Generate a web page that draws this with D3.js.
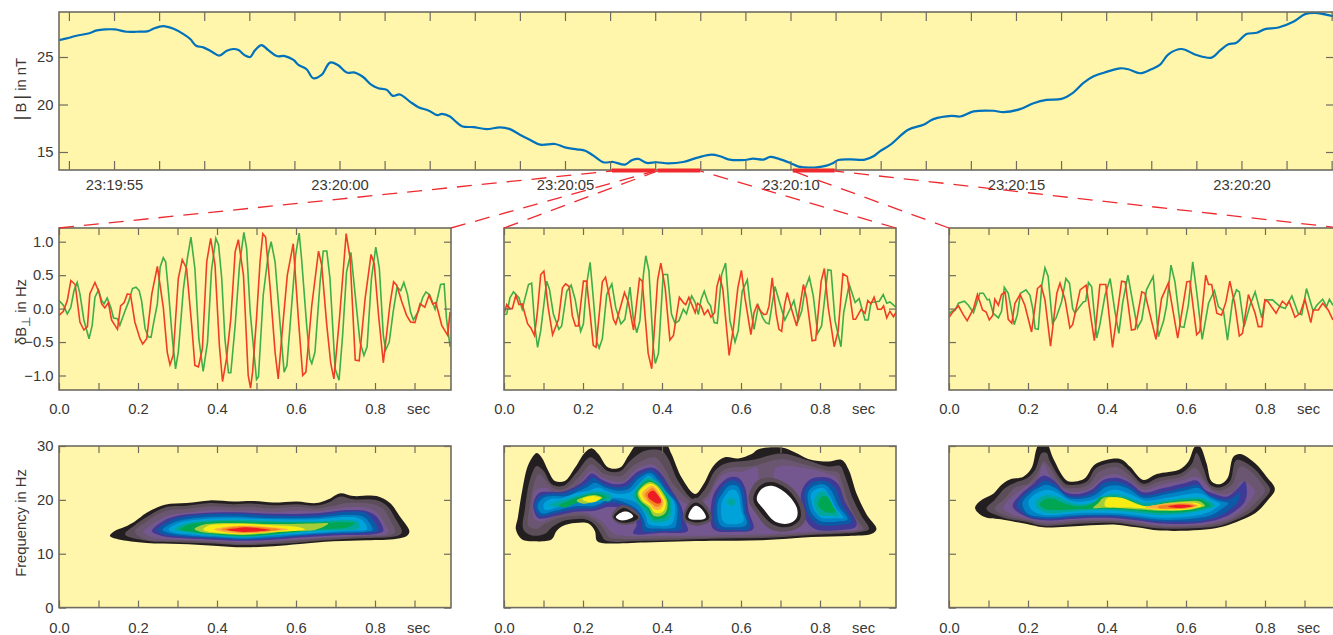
<!DOCTYPE html>
<html>
<head>
<meta charset="utf-8">
<script src="https://cdn.jsdelivr.net/npm/d3@7"></script>
<style>
  html, body { margin: 0; background: #fff; overflow: hidden; }
  text { font-family: "Liberation Sans", Arial, sans-serif; fill: #3a3835; }
</style>
</head>
<body>
<svg id="chart" width="1333" height="635"></svg>
<script>
// |B| trace: [seconds after 23:19:55, nT]
var fieldTrace = [[-1.22,26.78],[-1.05,26.96],[-.83,27.24],[-.57,27.48],[-.38,27.8],[-.2,27.9],[.02,27.9],[.28,27.66],[.5,27.66],[.76,27.73],[.87,27.97],[1.09,28.25],[1.32,27.97],[1.54,27.41],[1.69,26.89],[1.82,26.19],[1.98,26.01],[2.17,25.56],[2.33,25.14],[2.5,25.66],[2.65,25.84],[2.76,25.73],[2.9,25.17],[3.02,25],[3.13,25.73],[3.27,26.26],[3.42,25.73],[3.61,25.1],[3.79,25.1],[3.98,24.69],[4.09,24.16],[4.27,23.71],[4.42,22.76],[4.6,23.11],[4.79,24.41],[4.97,24.13],[5.16,23.36],[5.34,23.36],[5.53,22.87],[5.71,22.06],[5.86,21.71],[6.05,21.54],[6.18,20.91],[6.34,21.05],[6.56,20.31],[6.75,19.72],[6.97,19.37],[7.17,18.88],[7.27,19.02],[7.45,18.74],[7.6,18.11],[7.73,17.69],[7.97,17.62],[8.26,17.41],[8.56,17.59],[8.78,17.41],[9,16.82],[9.22,16.29],[9.45,15.77],[9.78,15.84],[10,15.49],[10.26,15.28],[10.45,15.14],[10.63,14.62],[10.85,13.92],[11.07,13.95],[11.33,13.67],[11.48,14.13],[11.63,14.27],[11.81,13.85],[12.03,13.92],[12.29,13.81],[12.62,13.95],[12.96,14.44],[13.25,14.72],[13.44,14.55],[13.62,14.23],[13.99,14.16],[14.17,14.3],[14.4,14.2],[14.55,14.48],[14.73,14.3],[14.99,13.85],[15.18,13.46],[15.32,13.39],[15.58,13.39],[15.8,13.57],[15.95,13.85],[16.06,14.16],[16.32,14.23],[16.65,14.2],[16.84,14.55],[16.98,15.07],[17.21,15.75],[17.61,17.34],[17.95,17.87],[18.17,18.46],[18.57,18.81],[18.76,18.74],[19.06,19.27],[19.5,19.34],[19.72,19.2],[20.09,19.51],[20.39,20.14],[20.68,20.49],[21.01,20.59],[21.27,21.26],[21.49,22.24],[21.71,22.94],[22.01,23.43],[22.31,23.81],[22.49,23.71],[22.75,23.29],[23,23.71],[23.19,24.16],[23.38,25.28],[23.67,25.84],[24,25.21],[24.34,24.93],[24.52,25.66],[24.71,26.33],[24.89,26.5],[25.11,27.41],[25.34,27.55],[25.52,27.94],[25.82,28.11],[26.15,28.71],[26.41,29.51],[26.63,29.65],[27.03,29.3]];
var timeLabels = ["23:19:55","23:20:00","23:20:05","23:20:10","23:20:15","23:20:20"];
var fieldTicks = [15,20,25];
// the three one second windows, seconds after 23:19:55
var windows = [[11.04,12],[12.05,13],[15.05,15.98]];

// perturbation traces: [sec, Hz]
var wave1Green = [[0,.12],[.011,.05],[.021,-.08],[.03,.02],[.038,.27],[.046,.39],[.053,.22],[.063,-.17],[.076,-.45],[.084,-.25],[.091,.17],[.1,.28],[.108,.12],[.114,.07],[.122,.16],[.132,0],[.138,-.14],[.148,-.15],[.154,-.25],[.165,-.07],[.176,.1],[.186,.3],[.195,.32],[.203,.27],[.209,.12],[.218,-.3],[.226,-.42],[.233,-.43],[.24,-.2],[.249,.07],[.256,.62],[.264,.76],[.27,.7],[.278,.2],[.287,-.45],[.295,-.9],[.302,-.65],[.315,.3],[.325,.75],[.334,1.07],[.344,.6],[.354,-.45],[.365,-.94],[.376,-.5],[.386,.57],[.397,1.05],[.404,.95],[.412,.45],[.42,-.45],[.429,-.96],[.435,-.96],[.446,-.25],[.457,.65],[.468,1.14],[.475,.9],[.484,-.05],[.5,-1.06],[.505,-1.02],[.517,.2],[.53,.82],[.537,1],[.547,.7],[.56,-.25],[.57,-.95],[.577,-.85],[.589,.05],[.599,.8],[.608,1.13],[.614,.75],[.627,-.25],[.635,-.75],[.64,-.82],[.648,-.65],[.661,.4],[.669,.86],[.678,.86],[.686,.45],[.699,-.9],[.709,-1.07],[.718,-.4],[.728,.55],[.739,.84],[.749,.25],[.762,-.5],[.772,-.7],[.78,-.57],[.791,.45],[.802,.92],[.811,.6],[.821,-.4],[.827,-.62],[.836,-.5],[.846,-.05],[.856,.32],[.865,.27],[.873,.39],[.882,.22],[.89,-.05],[.897,-.17],[.91,-.04],[.921,.17],[.929,.25],[.939,.2],[.952,-.01],[.966,.36],[.975,.37],[.981,-.15],[.99,-.57]];
var wave1Red = [[0,-.1],[.011,-.04],[.021,.12],[.03,.42],[.041,.36],[.053,-.2],[.063,-.32],[.072,-.27],[.078,.22],[.091,.39],[.101,.25],[.108,.07],[.116,.01],[.125,.09],[.133,-.17],[.148,-.31],[.156,.04],[.165,.09],[.173,.22],[.181,.21],[.192,-.2],[.205,-.45],[.212,-.53],[.222,-.45],[.235,.22],[.249,.63],[.264,.02],[.274,-.65],[.281,-.84],[.289,-.7],[.302,.45],[.312,.73],[.323,.6],[.336,-.25],[.344,-.85],[.353,-.87],[.363,-.6],[.374,.7],[.384,1.05],[.395,.65],[.406,-.55],[.414,-1.09],[.424,-.75],[.435,-.15],[.446,.85],[.454,1.03],[.467,.5],[.479,-1],[.485,-1.19],[.49,-.95],[.5,-.15],[.509,.7],[.516,1.12],[.523,1.07],[.534,.35],[.547,-.65],[.555,-1.05],[.565,-.35],[.578,.5],[.593,.97],[.606,-.15],[.617,-1],[.625,-.95],[.64,.05],[.657,.86],[.665,.65],[.678,-.25],[.688,-.82],[.696,-1.05],[.71,-.15],[.727,1.12],[.737,.75],[.75,-.77],[.76,-.78],[.775,.15],[.79,.81],[.798,.67],[.809,-.1],[.821,-.81],[.83,-.35],[.838,.07],[.847,.4],[.855,.35],[.868,.1],[.88,-.1],[.89,-.2],[.901,-.21],[.914,.07],[.926,.02],[.937,.2],[.946,.07],[.954,.09],[.969,-.25],[.984,-.4],[.99,-.05]];
var wave2Green = [[0,-.09],[.007,-.08],[.015,.16],[.024,.25],[.038,.16],[.046,-.01],[.062,.36],[.07,.38],[.078,-.26],[.085,-.58],[.093,-.33],[.108,.41],[.115,.29],[.125,-.08],[.139,-.31],[.146,-.26],[.159,.26],[.17,.35],[.18,.14],[.194,-.34],[.201,-.23],[.209,.36],[.218,.69],[.226,.16],[.235,-.5],[.241,-.59],[.249,-.45],[.26,.21],[.273,.37],[.283,.01],[.296,-.23],[.306,-.16],[.319,.32],[.327,-.13],[.336,-.36],[.344,-.18],[.353,.51],[.359,.79],[.367,.56],[.378,-.58],[.383,-.82],[.391,-.67],[.403,.51],[.414,.51],[.424,-.08],[.433,-.22],[.443,-.18],[.454,-.01],[.462,-.08],[.475,.19],[.484,.09],[.492,-.09],[.499,.14],[.507,.26],[.516,.1],[.523,.04],[.532,-.21],[.54,-.22],[.551,.51],[.561,.68],[.572,-.18],[.585,-.5],[.593,-.33],[.603,.26],[.616,.43],[.623,.06],[.633,-.31],[.644,.04],[.655,-.14],[.663,-.21],[.671,-.23],[.686,.33],[.699,.06],[.711,-.17],[.724,-.01],[.734,.12],[.745,-.18],[.754,-.03],[.762,.29],[.773,.47],[.783,.19],[.794,-.37],[.804,-.26],[.82,.58],[.828,.57],[.838,-.18],[.853,-.57],[.86,-.06],[.874,.36],[.889,.09],[.899,.15],[.914,-.17],[.922,-.17],[.929,.09],[.95,.11],[.96,.21],[.969,.08],[.977,.1],[.992,.02]];
var wave2Red = [[0,-.08],[.007,.06],[.015,0],[.021,0],[.03,.2],[.038,.06],[.046,.07],[.06,-.23],[.068,-.29],[.077,-.4],[.084,-.08],[.093,.51],[.101,.56],[.112,.01],[.123,-.39],[.138,-.16],[.148,.31],[.156,.37],[.165,.33],[.173,-.11],[.181,-.26],[.188,-.26],[.201,.41],[.209,.41],[.218,-.08],[.226,-.55],[.233,-.58],[.249,.4],[.257,.47],[.266,.21],[.277,-.16],[.283,-.23],[.305,.24],[.315,.09],[.328,-.32],[.343,.45],[.35,.41],[.365,-.67],[.374,-.9],[.389,.43],[.397,.68],[.408,.31],[.42,-.47],[.429,-.4],[.444,.17],[.454,.09],[.46,.06],[.468,.17],[.484,-.06],[.49,.08],[.499,.04],[.507,-.09],[.516,-.02],[.524,-.13],[.533,-.06],[.539,.33],[.546,.48],[.554,.29],[.57,-.7],[.581,-.28],[.592,.31],[.601,.57],[.61,.16],[.625,-.39],[.633,-.06],[.641,.06],[.65,-.04],[.658,-.09],[.665,-.08],[.671,.04],[.679,.46],[.689,-.08],[.696,-.31],[.703,-.34],[.71,.04],[.717,.24],[.729,-.03],[.741,-.26],[.758,.36],[.766,.16],[.78,-.48],[.789,-.47],[.803,.41],[.811,.6],[.821,.01],[.836,-.57],[.846,-.33],[.858,.52],[.869,.48],[.884,-.16],[.89,-.16],[.904,-.01],[.914,-.07],[.921,.12],[.929,.07],[.937,.17],[.946,-.01],[.955,-.01],[.961,.04],[.969,-.14],[.977,-.04],[.986,-.12],[.992,-.06]];
var wave3Green = [[0,-.08],[.007,-.04],[.015,-.03],[.024,.08],[.039,.11],[.049,.05],[.062,-.06],[.078,.23],[.087,.23],[.097,.13],[.102,.14],[.112,-.07],[.125,-.14],[.133,-.04],[.14,.32],[.15,.23],[.165,-.24],[.173,-.09],[.181,.23],[.195,.28],[.205,.2],[.212,0],[.218,-.3],[.226,-.31],[.235,.35],[.243,.61],[.251,.48],[.262,-.22],[.271,-.14],[.285,.1],[.296,.45],[.305,.38],[.313,0],[.319,-.07],[.327,0],[.34,.1],[.346,.11],[.353,.39],[.361,.33],[.374,-.44],[.382,-.24],[.395,.2],[.408,.45],[.42,-.04],[.43,-.37],[.44,.1],[.453,.5],[.465,.1],[.477,-.29],[.488,-.17],[.5,.28],[.517,.48],[.53,-.42],[.543,-.19],[.551,.05],[.562,.65],[.572,.4],[.586,-.27],[.595,-.28],[.606,.05],[.617,.7],[.627,.25],[.641,-.46],[.657,.08],[.672,.27],[.682,.03],[.695,-.04],[.705,-.47],[.718,.13],[.728,.28],[.735,.25],[.747,-.27],[.762,.05],[.775,.25],[.792,-.14],[.8,.13],[.819,.13],[.838,.03],[.851,0],[.868,.19],[.884,-.07],[.893,-.09],[.905,.3],[.922,-.04],[.931,.05],[.946,.14],[.956,.03],[.963,.14],[.972,.05]];
var wave3Red = [[0,-.13],[.011,-.04],[.024,.04],[.036,-.09],[.046,-.18],[.062,0],[.072,.21],[.085,-.02],[.094,-.05],[.102,-.17],[.111,-.1],[.116,.14],[.125,.05],[.133,.21],[.142,.25],[.15,-.16],[.159,-.22],[.167,.08],[.18,.21],[.192,.05],[.209,-.35],[.224,.3],[.233,.35],[.243,.13],[.257,-.56],[.273,.23],[.281,.38],[.294,.13],[.306,-.29],[.313,-.24],[.332,.28],[.347,.35],[.368,-.48],[.382,.36],[.397,.36],[.414,-.58],[.437,.41],[.446,.4],[.462,-.32],[.471,-.31],[.488,.25],[.496,.23],[.524,-.46],[.538,.15],[.555,.38],[.579,-.44],[.602,.4],[.61,.41],[.627,-.39],[.635,-.34],[.65,.5],[.657,.36],[.665,.36],[.678,-.07],[.69,-.1],[.701,.1],[.711,.41],[.724,.05],[.735,-.41],[.743,-.37],[.758,.21],[.775,-.07],[.783,-.27],[.792,-.27],[.8,.13],[.808,.1],[.828,-.07],[.844,.11],[.855,.05],[.861,.11],[.876,-.13],[.889,-.07],[.901,.14],[.916,-.21],[.922,-.02],[.935,-.02],[.946,.08],[.96,-.02],[.972,-.17]];
var waveTicks = [-1,-.5,0,.5,1];
var freqTicks = [0,10,20,30];
var secTicks = d3.range(0,10).map(d => d/10);

// spectrogram contours: [level, [[sec, Hz], ...]], painted in order
var spec1Contours = [
 [0,[[.129,13.3],[.138,14.1],[.167,15],[.192,16],[.222,17.6],[.268,19.1],[.323,19.4],[.382,19.9],[.441,19.7],[.492,19.8],[.543,19.5],[.602,19.7],[.652,19.4],[.682,20.1],[.711,21.2],[.745,20.7],[.804,20.7],[.838,19.4],[.863,16.9],[.887,14.2],[.882,13.4],[.855,12.8],[.779,12.5],[.695,12.3],[.61,11.8],[.543,11.4],[.467,11.2],[.391,11.5],[.306,11.8],[.222,12],[.171,12.4]]],
 [1,[[.167,13.6],[.192,15.3],[.222,16.8],[.268,18.6],[.323,18.9],[.382,19.4],[.441,19.2],[.492,19.3],[.543,19],[.602,19.2],[.652,18.95],[.682,19.5],[.711,20.6],[.745,20.1],[.8,20],[.83,18.9],[.851,16.6],[.868,14.1],[.859,13.4],[.779,12.9],[.695,12.6],[.61,12.1],[.543,11.8],[.467,11.6],[.391,11.9],[.306,12.1],[.222,12.4]]],
 [2,[[.192,14.1],[.222,16],[.268,17.9],[.323,18.3],[.382,18.8],[.441,18.6],[.492,18.7],[.543,18.4],[.602,18.7],[.652,18.4],[.695,18.9],[.728,19.4],[.796,19.2],[.821,18.3],[.838,16.3],[.851,14.1],[.838,13.4],[.779,13.2],[.695,12.9],[.61,12.5],[.543,12.1],[.467,11.8],[.391,12.1],[.306,12.4],[.222,12.6]]],
 [3,[[.215,14.1],[.247,16],[.281,17.2],[.323,17.6],[.382,18.1],[.441,18],[.492,18],[.543,17.8],[.602,18],[.652,17.9],[.728,18.6],[.787,18.4],[.808,17.4],[.823,15.7],[.834,14.1],[.821,13.5],[.779,13.4],[.695,13.1],[.61,12.7],[.543,12.4],[.467,12.1],[.391,12.4],[.306,12.6],[.239,13]]],
 [4,[[.235,14.2],[.264,16.1],[.298,17],[.357,17.5],[.441,17.7],[.543,17.4],[.652,17.5],[.728,18.1],[.779,17.9],[.804,16.9],[.821,14.2],[.804,13.7],[.695,13.4],[.61,13],[.543,12.6],[.467,12.4],[.391,12.6],[.306,12.9],[.256,13.4]]],
 [5,[[.249,14.4],[.277,16],[.311,16.8],[.365,17.3],[.441,17.4],[.543,17.1],[.652,17.1],[.728,17.8],[.775,17.6],[.792,16.6],[.808,14.3],[.792,14],[.695,13.7],[.61,13.3],[.543,12.9],[.467,12.6],[.391,12.9],[.306,13.2],[.264,13.6]]],
 [6,[[.262,14.4],[.289,15.8],[.323,16.4],[.374,16.8],[.441,16.9],[.543,16.6],[.652,16.7],[.728,17.2],[.766,17],[.783,16.1],[.794,14.4],[.775,14.1],[.695,13.9],[.61,13.5],[.543,13.1],[.467,12.8],[.391,13.1],[.31,13.5],[.277,13.9]]],
 [7,[[.277,14.5],[.302,15.7],[.336,16.2],[.382,16.5],[.441,16.6],[.543,16.4],[.652,16.4],[.728,16.8],[.758,16.6],[.775,15.7],[.779,14.5],[.754,14.3],[.695,14.1],[.61,13.7],[.543,13.4],[.467,13],[.391,13.3],[.315,13.7],[.289,14]]],
 [8,[[.291,14.5],[.315,15.5],[.349,16],[.391,16.2],[.45,16.3],[.543,16.1],[.652,16],[.728,16.3],[.758,15.8],[.758,14.7],[.728,14.4],[.652,14.2],[.543,13.5],[.467,13.1],[.391,13.4],[.323,14],[.302,14.2]]],
 [9,[[.306,14.5],[.327,15.4],[.357,15.8],[.399,16],[.45,16],[.543,15.8],[.661,15.8],[.737,15.8],[.749,15.7],[.732,14.9],[.661,14.5],[.593,14],[.543,13.6],[.467,13.25],[.391,13.6],[.332,14.1]]],
 [10,[[.343,14.6],[.357,15.2],[.374,15.5],[.412,15.7],[.458,15.7],[.543,15.5],[.648,15.6],[.682,15.6],[.648,14.4],[.593,14.3],[.543,13.9],[.467,13.5],[.391,13.8],[.357,14.1]]],
 [11,[[.365,14.5],[.378,15.2],[.424,15.5],[.475,15.5],[.543,15.3],[.602,15],[.623,14.5],[.593,14.2],[.526,13.95],[.467,13.6],[.399,13.9],[.378,14.1]]],
 [12,[[.393,14.5],[.424,15],[.475,15.2],[.526,15],[.58,14.5],[.526,14.1],[.467,13.75],[.415,14.1]]],
 [13,[[.41,14.5],[.44,14.95],[.475,15.05],[.52,14.85],[.56,14.5],[.52,14.1],[.467,13.9],[.43,14.2]]],
 [14,[[.424,14.5],[.45,14.75],[.475,14.9],[.51,14.7],[.535,14.4],[.5,14.15],[.467,14.05],[.44,14.2]]]
];
var spec2Contours = [
 [0,[[.03,14.55],[.035,16.7],[.046,21.7],[.062,26.6],[.083,28.7],[.095,27.9],[.112,25.4],[.129,23.5],[.154,23.5],[.18,26],[.205,28.8],[.222,29.6],[.239,28.5],[.264,26],[.294,26],[.315,28.2],[.34,30.5],[.408,30.5],[.424,28.5],[.45,24.1],[.484,21.1],[.505,22.9],[.53,26.3],[.559,27.9],[.593,27.7],[.627,28.5],[.644,29.4],[.703,29.7],[.737,28.8],[.77,27.6],[.821,27.1],[.855,27.4],[.872,25.7],[.893,21.1],[.918,17.3],[.943,14.6],[.931,13.7],[.872,13.3],[.779,13.1],[.652,12.5],[.526,12.4],[.357,12.1],[.247,12],[.235,12.4],[.23,14.2],[.214,15.6],[.18,15.7],[.15,15.2],[.133,14.2],[.121,12.7],[.078,12.3],[.045,12.7]]],
 [1,[[.049,14.55],[.053,18.3],[.066,23.8],[.083,26.3],[.1,25.4],[.121,22.9],[.15,22.6],[.184,25.1],[.218,27.9],[.239,26.9],[.264,25.3],[.294,25.3],[.319,27.2],[.357,29.1],[.399,29.1],[.416,27.6],[.441,23.5],[.481,20.1],[.509,22],[.534,25.4],[.559,26.7],[.627,27.4],[.703,28.6],[.754,27.7],[.821,26.2],[.851,26.3],[.863,24.5],[.884,20.1],[.905,17],[.924,14.6],[.905,14.1],[.779,13.5],[.652,12.9],[.526,12.8],[.357,12.4],[.256,12.5],[.246,13.6],[.23,15.4],[.205,16.4],[.176,16.4],[.146,16],[.121,14.9],[.104,13.7],[.07,13.4]]],
 [2,[[.062,15.2],[.066,19.2],[.078,23.5],[.089,24.8],[.104,23.8],[.129,22],[.154,22],[.188,24.1],[.222,26.6],[.247,25.1],[.273,24.5],[.298,24.5],[.332,26.6],[.382,27.9],[.403,26.3],[.429,22.9],[.484,19.5],[.517,21.1],[.538,24.1],[.559,25.7],[.631,26.3],[.703,27.6],[.754,26.7],[.821,25.4],[.846,25.1],[.855,23.5],[.872,19.5],[.893,16.4],[.91,14.6],[.893,14.2],[.779,13.7],[.652,13.2],[.526,13],[.357,12.8],[.268,13],[.26,13.6],[.243,15.5],[.205,17],[.176,17],[.138,16.6],[.104,15.6],[.083,14.6]]],
 [3,[[.072,18.9],[.078,21.7],[.104,22.3],[.133,21.1],[.159,21.2],[.192,23.2],[.222,25.4],[.251,24.1],[.277,23.5],[.302,23.5],[.336,25.7],[.374,26.6],[.395,25.4],[.42,22.3],[.443,20.1],[.484,18.9],[.517,20.4],[.534,22.9],[.551,24.5],[.568,25.1],[.606,25.3],[.64,26],[.648,23.8],[.678,23.8],[.69,26],[.754,26],[.821,24.8],[.842,24.1],[.855,21.1],[.872,18],[.893,15.5],[.897,14.6],[.821,14.2],[.652,13.6],[.534,13.4],[.399,13.3],[.315,13.3],[.281,13.6],[.247,16],[.205,17.6],[.171,17.6],[.129,17],[.095,16],[.077,16.4]]],
 [4,[[.074,18.9],[.087,21.2],[.116,21.5],[.146,21.5],[.176,22.3],[.201,23.5],[.222,24.9],[.247,23.8],[.281,22.9],[.306,23.2],[.34,25.3],[.374,26],[.395,25.1],[.42,22.3],[.448,18.9],[.458,16.1],[.465,14.2],[.399,13.9],[.327,13.8],[.336,15.5],[.315,18],[.268,18.7],[.23,18],[.18,17.8],[.129,17],[.087,16.6]]],
 [4,[[.53,14.6],[.526,19.8],[.538,22],[.568,24.1],[.593,24.1],[.61,22.3],[.619,18],[.631,14.6],[.585,14.1]]],
 [4,[[.754,21.7],[.775,23.8],[.821,24.1],[.846,22.9],[.863,19.7],[.893,15.7],[.889,14.9],[.855,14.4],[.787,14.6],[.762,16.6],[.752,19.4]]],
 [5,[[.077,18.9],[.091,20.7],[.121,21.2],[.15,21.2],[.18,22],[.205,22.9],[.226,24.1],[.251,23],[.285,22.3],[.311,22.6],[.34,24.6],[.372,25.5],[.391,24.5],[.414,22],[.443,19.2],[.448,16.1],[.45,14.6],[.399,14.2],[.353,14.2],[.349,15.8],[.332,18.1],[.268,19.5],[.23,18.5],[.18,18.3],[.129,17.5],[.091,17]]],
 [5,[[.538,14.9],[.534,19.5],[.544,21.5],[.568,23.4],[.591,23.4],[.606,21.7],[.612,18],[.623,14.7],[.581,14.4]]],
 [5,[[.762,21.7],[.779,23.2],[.817,23.4],[.84,22],[.855,19.2],[.88,15.9],[.855,15.4],[.796,15.4],[.772,17],[.762,19.5]]],
 [6,[[.085,18.9],[.1,20.4],[.129,20.7],[.159,20.7],[.184,21.5],[.209,22.3],[.23,23.2],[.256,22.3],[.289,21.7],[.315,22],[.342,24],[.37,25],[.389,23.8],[.41,21.7],[.437,19.2],[.437,15.8],[.433,14.9],[.391,14.7],[.361,14.9],[.355,16.1],[.336,18.3],[.273,20.1],[.23,18.9],[.18,18.8],[.129,18],[.095,17.5]]],
 [6,[[.547,15.4],[.541,19.5],[.553,21.2],[.57,22.6],[.59,22.6],[.6,21.1],[.606,18],[.614,15.4],[.578,14.9]]],
 [6,[[.77,21.4],[.786,22.6],[.813,22.8],[.831,21.4],[.846,18.9],[.87,16.4],[.846,16],[.8,16.1],[.779,17.5],[.77,19.5]]],
 [7,[[.1,19.1],[.116,20.1],[.146,20.3],[.18,21.2],[.214,21.7],[.239,22.3],[.264,21.5],[.294,21.1],[.319,21.4],[.344,23.2],[.367,24.5],[.386,23.2],[.408,21.4],[.431,19.5],[.424,15.5],[.382,15.2],[.365,15.6],[.359,17],[.34,19.2],[.311,20.1],[.277,20.4],[.23,19.5],[.18,19.4],[.129,18.5],[.104,18.1]]],
 [7,[[.555,16],[.551,19.5],[.561,20.9],[.572,21.8],[.586,21.8],[.595,20.6],[.6,18.3],[.606,16],[.576,15.5]]],
 [7,[[.777,21.1],[.791,22],[.808,22.2],[.825,20.7],[.84,18.5],[.859,16.7],[.838,16.6],[.804,16.7],[.786,18],[.779,19.5]]],
 [8,[[.116,19.1],[.138,19.8],[.18,20.6],[.218,21.4],[.247,21.5],[.273,20.7],[.268,19.8],[.23,20],[.18,19.9],[.138,18.7]]],
 [8,[[.327,20.7],[.347,23.2],[.365,24.1],[.386,23.5],[.408,21.7],[.424,19.8],[.418,16.4],[.391,15.8],[.374,16],[.359,17.6],[.336,19.5]]],
 [8,[[.564,19.5],[.572,20.3],[.58,20.3],[.585,19.3],[.576,18.9]]],
 [8,[[.786,20.1],[.8,21.5],[.813,21.5],[.825,20.1],[.836,18.3],[.848,17],[.825,17],[.8,17.2],[.787,18.7]]],
 [9,[[.138,18.9],[.163,19.8],[.197,20.7],[.23,21.2],[.251,20.9],[.26,20.4],[.235,19.8],[.188,19.5],[.154,18.6]]],
 [9,[[.334,21.1],[.35,22.9],[.367,23.65],[.386,23],[.403,21.5],[.419,19.5],[.412,17],[.391,16.4],[.376,16.6],[.364,18.1],[.342,19.6]]],
 [9,[[.796,19.5],[.807,20.7],[.82,20.4],[.832,18.9],[.84,17.8],[.825,17.6],[.808,18],[.797,18.7]]],
 [10,[[.184,19.9],[.205,20.6],[.23,20.9],[.249,20.4],[.23,19.8],[.201,19.3]]],
 [10,[[.338,21.2],[.353,22.7],[.37,23.3],[.386,22.8],[.402,21.4],[.414,19.5],[.408,17.5],[.391,16.9],[.378,17.1],[.367,18.5],[.346,19.8]]],
 [11,[[.198,20.1],[.222,20.7],[.245,20.3],[.222,19.5]]],
 [11,[[.342,21.4],[.355,22.5],[.371,23],[.386,22.5],[.399,21.2],[.41,19.5],[.404,17.95],[.391,17.5],[.38,17.7],[.37,18.8],[.35,19.9]]],
 [12,[[.35,21.2],[.361,22.1],[.374,22.6],[.386,22],[.397,20.7],[.404,19.5],[.399,18.5],[.389,18.1],[.38,18.3],[.37,19.2],[.357,20]]],
 [13,[[.357,21.05],[.365,21.7],[.376,22.2],[.386,21.5],[.395,20.4],[.399,19.5],[.395,18.9],[.386,18.7],[.376,19.2],[.365,19.9]]],
 [14,[[.364,20.9],[.37,21.5],[.379,21.7],[.389,20.9],[.397,20.1],[.397,19.5],[.389,19.3],[.376,19.8],[.367,20.3]]],
 // low power islands, painted last
 [1,[[.273,17],[.294,18.9],[.323,18.5],[.344,16.7],[.323,15.5],[.289,15.6]]],
 [0,[[.277,16.8],[.302,18.5],[.327,17.6],[.34,16.7],[.315,15.8],[.289,16]]],
 [15,[[.283,16.8],[.302,17.8],[.319,17.6],[.327,16.9],[.306,16.2],[.291,16.3]]],
 [1,[[.454,16.4],[.465,19.1],[.486,20.4],[.513,18.9],[.526,16.4],[.488,15.2]]],
 [0,[[.46,16.6],[.468,18.6],[.486,19.5],[.507,18.5],[.519,16.6],[.488,15.8]]],
 [15,[[.467,16.7],[.475,18.3],[.486,18.9],[.5,18.3],[.511,16.7],[.488,16.3]]],
 [1,[[.619,20.1],[.64,23.5],[.678,24.1],[.728,22.3],[.76,18.6],[.76,15.8],[.724,14.2],[.673,14.6],[.64,17.3]]],
 [0,[[.631,20.1],[.648,22.6],[.678,23.3],[.72,21.8],[.749,18.6],[.749,16.4],[.722,15],[.682,15.4],[.648,17.8]]],
 [15,[[.64,20.1],[.652,22],[.678,22.6],[.711,21.4],[.741,18.6],[.741,16.7],[.72,15.6],[.686,16],[.657,18.3]]]
];
var spec3Contours = [
 [0,[[.066,18.5],[.083,20],[.113,21.2],[.133,22.8],[.154,23.8],[.188,24.3],[.209,25.9],[.222,29.6],[.23,30.5],[.247,30.5],[.264,27.7],[.298,23.6],[.319,23.4],[.344,24],[.37,26.6],[.433,27.6],[.458,26.2],[.492,23.7],[.526,24.8],[.585,25.7],[.606,27.1],[.623,29.9],[.635,29.9],[.652,26.8],[.665,23.4],[.686,22.9],[.705,24],[.72,28],[.737,28.5],[.775,26.8],[.804,24.3],[.825,22],[.808,20],[.775,17.5],[.728,15.9],[.686,14.9],[.635,14.4],[.534,14.3],[.475,14.9],[.424,15.4],[.34,15.2],[.239,14.9],[.197,15.5],[.138,16.3],[.087,16.9]]],
 [1,[[.095,18.3],[.116,20],[.142,22.2],[.167,23.2],[.197,24],[.218,25.6],[.235,28.7],[.247,28.7],[.256,27.1],[.294,23],[.319,22.8],[.349,23.4],[.374,26],[.429,26.9],[.454,25.6],[.492,23],[.53,24.1],[.589,25],[.614,26.6],[.627,28.7],[.644,25.9],[.661,22.8],[.686,22.3],[.711,23.4],[.728,27.4],[.766,26.2],[.796,23.8],[.813,21.9],[.796,20],[.766,17.8],[.724,16.2],[.686,15.2],[.635,14.8],[.534,14.7],[.475,15.2],[.424,15.7],[.34,15.6],[.239,15.2],[.197,15.9],[.138,16.7]]],
 [2,[[.116,18.3],[.142,20.3],[.167,22.3],[.201,23.1],[.226,25.3],[.239,27.1],[.256,25.9],[.289,22.5],[.319,22.2],[.353,22.8],[.382,25.3],[.424,26.1],[.45,25],[.492,22.5],[.534,23.5],[.589,24.3],[.623,25.9],[.644,24],[.661,22.2],[.686,21.7],[.716,22.8],[.737,26.2],[.762,25.4],[.787,23.4],[.8,21.7],[.779,19.7],[.754,18],[.72,16.5],[.686,15.6],[.635,15.1],[.534,15],[.475,15.5],[.424,16],[.34,16],[.239,15.5],[.197,16.2],[.146,17]]],
 [3,[[.138,18.5],[.159,20.6],[.188,22.2],[.222,23.6],[.239,26.5],[.256,24.5],[.294,21.9],[.323,21.5],[.357,22.2],[.391,24.3],[.424,24.8],[.454,23.7],[.492,21.9],[.538,22.8],[.593,23.7],[.627,24.3],[.652,22.8],[.669,21.5],[.695,21.1],[.72,21.5],[.741,23.4],[.762,22.8],[.775,21.5],[.758,19.4],[.732,17.5],[.703,16.3],[.678,15.9],[.635,15.4],[.534,15.3],[.475,15.9],[.424,16.3],[.34,16.3],[.239,15.9],[.197,16.5],[.159,17.3]]],
 [4,[[.161,18.8],[.18,20.9],[.209,22.7],[.239,24.5],[.264,23.7],[.296,21.4],[.327,21.1],[.361,21.9],[.391,23.7],[.424,24.1],[.458,23.2],[.492,21.4],[.543,22.2],[.597,23.1],[.627,23.6],[.648,21.9],[.673,21.1],[.703,20.6],[.728,21.9],[.749,23.4],[.754,21.9],[.749,19.7],[.72,17.7],[.686,16.5],[.635,15.7],[.534,15.6],[.475,16.2],[.424,16.6],[.34,16.6],[.239,16.2],[.197,16.8]]],
 [5,[[.173,19.1],[.192,21.1],[.218,22.4],[.243,23.6],[.268,22.8],[.298,20.9],[.332,20.6],[.365,21.4],[.391,23.1],[.424,23.4],[.458,22.5],[.492,20.9],[.547,21.5],[.602,22.5],[.631,22.8],[.652,21.2],[.678,20.4],[.703,20],[.728,20.9],[.737,21.5],[.732,19.7],[.707,18],[.678,16.8],[.635,16.1],[.534,16],[.475,16.5],[.424,16.9],[.34,16.9],[.239,16.5],[.197,17.1]]],
 [6,[[.186,19.4],[.205,21.2],[.226,22.2],[.247,22.8],[.273,22],[.302,20.4],[.336,20.2],[.37,20.9],[.395,22.3],[.424,22.7],[.458,21.9],[.492,20.4],[.551,21.1],[.606,21.9],[.631,22.2],[.661,20.6],[.686,19.8],[.707,19.4],[.686,18.1],[.665,17.2],[.627,16.6],[.534,16.3],[.475,16.8],[.424,17.2],[.34,17.2],[.239,16.8],[.198,17.5]]],
 [7,[[.201,19.7],[.218,21.1],[.251,21.9],[.277,21.2],[.306,19.9],[.34,19.7],[.374,20.3],[.399,21.5],[.424,21.9],[.458,21.1],[.496,19.9],[.555,20.4],[.606,21.1],[.64,21.1],[.665,20],[.686,19.2],[.665,18],[.627,17.1],[.534,16.7],[.475,17.2],[.424,17.5],[.34,17.6],[.239,17.2],[.209,18.1]]],
 [8,[[.218,19.4],[.23,20.4],[.251,20.9],[.281,20.4],[.311,19.4],[.34,19.2],[.374,19.8],[.399,20.9],[.424,21.1],[.458,20.4],[.496,19.4],[.559,20],[.61,20.4],[.644,20.3],[.673,18.9],[.644,18.1],[.602,17.5],[.534,17.2],[.475,17.6],[.424,18],[.34,18],[.247,17.6],[.226,18.3]]],
 [9,[[.23,19.1],[.243,20.1],[.264,20.2],[.294,19.3],[.34,18.8],[.37,19.7],[.382,20.5],[.424,20.6],[.462,19.9],[.5,18.9],[.559,19.7],[.61,20],[.64,20],[.661,18.9],[.64,18.3],[.602,17.8],[.534,17.6],[.475,18],[.424,18.3],[.34,18.3],[.264,18.1],[.243,18.3]]],
 [10,[[.365,18.5],[.378,19.4],[.391,20.4],[.424,20.5],[.462,19.7],[.5,18.8],[.559,19.5],[.61,19.8],[.635,19.7],[.648,18.9],[.631,18.5],[.602,18.1],[.534,18],[.484,18.2],[.424,18.5],[.382,18.5]]],
 [11,[[.395,18.8],[.399,20.2],[.441,20.3],[.475,19.2],[.505,18.8],[.559,19.3],[.602,19.5],[.627,19.4],[.64,18.9],[.623,18.5],[.593,18.1],[.534,18.1],[.484,18.5],[.424,18.6]]],
 [12,[[.496,18.6],[.534,19.2],[.585,19.4],[.619,19.3],[.631,18.9],[.614,18.5],[.585,18.3],[.534,18.3]]],
 [13,[[.53,18.8],[.57,19.2],[.61,19.2],[.625,18.9],[.605,18.5],[.57,18.35],[.53,18.5]]],
 [14,[[.56,18.9],[.585,19.1],[.61,19],[.618,18.85],[.6,18.6],[.575,18.5],[.555,18.7]]]
];
var levelColors = ["#231f20","#5b4e58","#6a5670","#75578f","#3e3a96","#0c5aa6","#0082c4","#00a3d9","#00a79d","#00a651","#a5cd39","#f7ec13","#fbb040","#f58220","#ed1c24","#ffffff"];

var svg = d3.select("#chart");
var bg = "#fff5ab", frameColor = "#6f6b60", ink = "#3a3835";
var fontSize = 14.8;

// plain frame, ticks inside, labels outside
function frame(g, x, y, left, top, w, h, opts) {
    var right = left + w, bottom = top + h;
    g.append("rect").attr("x", left).attr("y", top).attr("width", w).attr("height", h)
        .attr("fill", bg);
    var layer = opts.draw(g);
    var axes = g.append("g");
    axes.append("g").attr("transform", `translate(0,${bottom})`)
        .call(d3.axisBottom(x).tickValues(opts.xTicks).tickSize(-opts.tick).tickPadding(opts.xPad).tickFormat(opts.xFormat));
    axes.append("g").attr("transform", `translate(0,${top})`)
        .call(d3.axisTop(x).tickValues(opts.xTicks).tickSize(-opts.tick).tickFormat(""));
    axes.append("g").attr("transform", `translate(${left},0)`)
        .call(d3.axisLeft(y).tickValues(opts.yTicks).tickSize(-opts.tick).tickPadding(5.5).tickFormat(opts.yFormat));
    axes.append("g").attr("transform", `translate(${right},0)`)
        .call(d3.axisRight(y).tickValues(opts.yTicks).tickSize(-opts.tick).tickFormat(""));
    axes.selectAll(".domain").remove();
    axes.selectAll("line").attr("stroke", frameColor).attr("stroke-width", 1.2);
    axes.selectAll("text").attr("font-size", fontSize).attr("font-family", '"Liberation Sans", Arial, sans-serif').attr("fill", ink);
    g.append("rect").attr("x", left).attr("y", top).attr("width", w).attr("height", h)
        .attr("fill", "none").attr("stroke", frameColor).attr("stroke-width", 1.6);
    return layer;
}

function clip(id, left, top, w, h) {
    svg.append("clipPath").attr("id", id).append("rect")
        .attr("x", left).attr("y", top).attr("width", w).attr("height", h);
}

// top panel
var topX = d3.scaleLinear().domain([-1.22, 27.03]).range([59, 1333]);
var topY = d3.scaleLinear().domain([15, 25]).range([152, 57]);
clip("clipTop", 59, 12, 1274, 158);
var topG = svg.append("g");
frame(topG, topX, topY, 59, 12, 1276, 158, {
    tick: 9, xPad: 9,
    xTicks: d3.range(-1, 28),
    xFormat: t => (t >= 0 && t % 5 == 0) ? timeLabels[t / 5] : "",
    yTicks: fieldTicks, yFormat: d => d,
    draw: g => {
        g.append("path").datum(fieldTrace)
            .attr("clip-path", "url(#clipTop)")
            .attr("fill", "none").attr("stroke", "#0072bc").attr("stroke-width", 2.2)
            .attr("d", d3.line().curve(d3.curveCatmullRom).x(d => topX(d[0])).y(d => topY(d[1])));
    }
});

var panelLefts = [59, 504, 949];
var panelW = 392;
var secMax = .9924;
var waves = [[wave1Green, wave1Red], [wave2Green, wave2Red], [wave3Green, wave3Red]];
var specs = [spec1Contours, spec2Contours, spec3Contours];
var contourLine = d3.line().curve(d3.curveCatmullRomClosed.alpha(.5));

panelLefts.forEach((left, i) => {
    var x = d3.scaleLinear().domain([0, secMax]).range([left, left + panelW]);
    var yWave = d3.scaleLinear().domain([-1, 1]).range([375.5, 241.7]);
    var yFreq = d3.scaleLinear().domain([0, 30]).range([607.6, 446]);
    var secFormat = d => (Math.round(d * 10) % 2 == 0 && d < .85) ? d.toFixed(1) : "";

    // wave panel
    clip("clipW" + i, left, 228, panelW, 162);
    var gw = svg.append("g");
    frame(gw, x, yWave, left, 228, panelW, 162, {
        tick: 7, xPad: 13.5,
        xTicks: secTicks, xFormat: secFormat,
        yTicks: waveTicks, yFormat: i == 0 ? d3.format(".1f") : "",
        draw: g => {
            var line = d3.line().x(d => x(d[0])).y(d => yWave(d[1]));
            g.selectAll("path.trace").data(waves[i]).enter().append("path")
                .attr("class", "trace")
                .attr("clip-path", `url(#clipW${i})`)
                .attr("fill", "none")
                .attr("stroke", (d, j) => j == 0 ? "#3fae49" : "#ef3e23")
                .attr("stroke-width", 1.6)
                .attr("d", line);
        }
    });
    gw.append("text").attr("x", left + 348).attr("y", 414).attr("font-size", fontSize).text("sec");

    // spectrogram panel
    clip("clipS" + i, left, 446, panelW, 161.6);
    var gs = svg.append("g");
    frame(gs, x, yFreq, left, 446, panelW, 161.6, {
        tick: 7, xPad: 15,
        xTicks: secTicks, xFormat: secFormat,
        yTicks: freqTicks, yFormat: i == 0 ? (d => d) : "",
        draw: g => {
            g.append("g").attr("clip-path", `url(#clipS${i})`)
                .selectAll("path").data(specs[i]).enter().append("path")
                .attr("fill", d => levelColors[d[0]])
                .attr("d", d => contourLine(d[1].map(p => [x(p[0]), yFreq(p[1])])));
        }
    });
    gs.append("text").attr("x", left + 348).attr("y", 633).attr("font-size", fontSize).text("sec");
});

// y titles
function yTitle(cy, build) {
    var t = svg.append("text").attr("transform", `translate(26,${cy}) rotate(-90)`)
        .attr("text-anchor", "middle").attr("font-size", fontSize);
    build(t);
}
yTitle(89, t => {
    t.append("tspan").attr("font-size", 18).attr("dy", 1).text("|");
    t.append("tspan").attr("dx", 3).attr("dy", -1).text("B");
    t.append("tspan").attr("font-size", 18).attr("dx", 3).attr("dy", 1).text("|");
    t.append("tspan").attr("dy", -1).text(" in nT");
});
yTitle(312, t => {
    t.append("tspan").text("δB");
    t.append("tspan").attr("dy", 4).attr("font-size", 12).text("⊥");
    t.append("tspan").attr("dy", -4).text(" in Hz");
});
yTitle(523, t => t.text("Frequency in Hz"));

// windows and dashed zoom lines
var red = "#ee2a2f";
var connectors = svg.append("g").attr("stroke", red).attr("fill", "none");
windows.forEach((w, i) => {
    var left = panelLefts[i];
    [[w[0], left], [w[1], left + panelW]].forEach(c => {
        connectors.append("line")
            .attr("x1", c[1]).attr("y1", 228)
            .attr("x2", topX(c[0])).attr("y2", 171)
            .attr("stroke-width", 1.3).attr("stroke-dasharray", "15 10");
    });
    connectors.append("line")
        .attr("x1", topX(w[0])).attr("x2", topX(w[1]))
        .attr("y1", 170.5).attr("y2", 170.5)
        .attr("stroke-width", 4);
});
</script>
</body>
</html>
